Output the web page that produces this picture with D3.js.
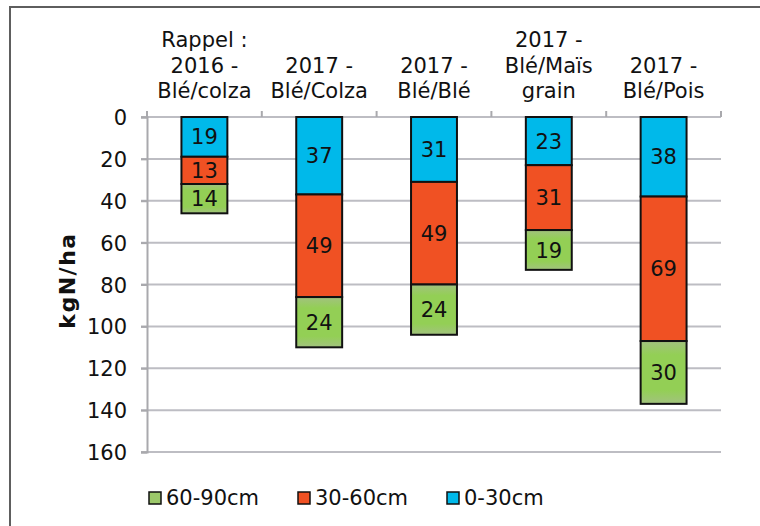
<!DOCTYPE html>
<html>
<head>
<meta charset="utf-8">
<script src="https://cdn.jsdelivr.net/npm/d3@7"></script>
<style>
  html, body { margin: 0; padding: 0; background: #fff; }
  svg { display: block; font-family: "DejaVu Sans", Verdana, sans-serif; }
</style>
</head>
<body>
<div id="chart"></div>
<script>
// Data (kgN/ha per soil layer)
const categories = [
  ["Rappel :", "2016 -", "Blé/colza"],
  ["2017 -", "Blé/Colza"],
  ["2017 -", "Blé/Blé"],
  ["2017 -", "Blé/Maïs", "grain"],
  ["2017 -", "Blé/Pois"]
];
const layer0to30 = [19, 37, 31, 23, 38];
const layer30to60 = [13, 49, 49, 31, 69];
const layer60to90 = [14, 24, 24, 19, 30];
const seriesNames = ["0-30cm", "30-60cm", "60-90cm"];
const legendOrder = ["60-90cm", "30-60cm", "0-30cm"];
const yTicks = [0, 20, 40, 60, 80, 100, 120, 140, 160];

const FONT = '"DejaVu Sans", Verdana, sans-serif';

const colors = {
  "0-30cm": "#00b9ea",
  "30-60cm": "#f05123",
  "60-90cm": "url(#greenGrad)"
};
const legendColors = {
  "0-30cm": "#00b9ea",
  "30-60cm": "#f05123",
  "60-90cm": "#9cc86a"
};

const W = 760, H = 526;
const plot = {left: 147, right: 721, top: 117, bottom: 452};

const svg = d3.select("#chart").append("svg")
  .attr("width", W)
  .attr("height", H);

const defs = svg.append("defs");
const grad = defs.append("linearGradient")
  .attr("id", "greenGrad")
  .attr("x1", 0).attr("y1", 0).attr("x2", 0).attr("y2", 1);
[[0, "#a2c27f"], [0.22, "#93cf55"], [0.78, "#93cf55"], [1, "#a2c27f"]].forEach(s => {
  grad.append("stop").attr("offset", s[0]).attr("stop-color", s[1]);
});

// outer frame (top and left edges visible)
svg.append("path")
  .attr("d", `M10,${H + 5} L10,7 L${W + 5},7`)
  .attr("fill", "none")
  .attr("stroke", "#5e5e5e")
  .attr("stroke-width", 2);

const ids = categories.map((c, i) => i);

const xCat = d3.scaleBand()
  .domain(ids)
  .range([plot.left, plot.right])
  .padding(0);

const x = d3.scaleBand()
  .domain(ids)
  .range([plot.left, plot.right])
  .paddingInner(0.6)
  .paddingOuter(0.3);

const y = d3.scaleLinear()
  .domain([0, 160])
  .range([plot.top, plot.bottom]);

// gridlines
svg.append("g")
  .selectAll("line")
  .data(yTicks)
  .enter().append("line")
    .attr("x1", plot.left - 6)
    .attr("x2", plot.right)
    .attr("y1", d => y(d))
    .attr("y2", d => y(d))
    .attr("stroke", "#bdbdc3")
    .attr("stroke-width", 2);

// y axis
const yAxis = svg.append("g")
  .attr("transform", `translate(${plot.left},0)`)
  .call(d3.axisLeft(y).tickValues(yTicks).tickSize(6).tickPadding(14))
  .attr("font-family", FONT)
  .attr("font-size", 21);
yAxis.select(".domain").attr("stroke", "#a9a9ad").attr("stroke-width", 2);
yAxis.selectAll(".tick line").attr("stroke", "#a9a9ad").attr("stroke-width", 2);
yAxis.selectAll("text")
  .attr("fill", "#111")
  .attr("dy", "0.36em");

// top category ticks
const boundaries = ids.map(i => xCat(i)).concat([plot.right]);
svg.append("g")
  .selectAll("line")
  .data(boundaries)
  .enter().append("line")
    .attr("x1", d => d)
    .attr("x2", d => d)
    .attr("y1", plot.top - 6)
    .attr("y2", plot.top)
    .attr("stroke", "#a9a9ad")
    .attr("stroke-width", 2);

// category labels (bottom-aligned above the plot)
const lineH = 25.5;
const catG = svg.append("g")
  .selectAll("text")
  .data(categories)
  .enter().append("text")
    .attr("x", (d, i) => xCat(i) + xCat.bandwidth() / 2)
    .attr("text-anchor", "middle")
    .attr("fill", "#111")
    .style("font-size", "21px");
catG.each(function(lines) {
  const t = d3.select(this);
  lines.forEach((ln, k) => {
    t.append("tspan")
      .attr("x", t.attr("x"))
      .attr("y", 98 - (lines.length - 1 - k) * lineH)
      .text(ln);
  });
});

// stacked bars
const rows = ids.map(i => ({
  "0-30cm": layer0to30[i],
  "30-60cm": layer30to60[i],
  "60-90cm": layer60to90[i]
}));
const stacked = d3.stack().keys(seriesNames)(rows);

const layers = svg.append("g")
  .selectAll("g")
  .data(stacked)
  .enter().append("g")
    .attr("fill", d => colors[d.key]);

layers.selectAll("rect")
  .data(d => d)
  .enter().append("rect")
    .attr("x", (d, i) => x(i))
    .attr("y", d => y(d[0]))
    .attr("width", x.bandwidth())
    .attr("height", d => y(d[1]) - y(d[0]))
    .attr("stroke", "#111")
    .attr("stroke-width", 2);

layers.selectAll("text")
  .data(d => d.map(v => ({v: v, key: d.key})))
  .enter().append("text")
    .attr("x", (d, i) => x(i) + x.bandwidth() / 2)
    .attr("y", d => (y(d.v[0]) + y(d.v[1])) / 2)
    .attr("dy", "0.36em")
    .attr("text-anchor", "middle")
    .attr("fill", "#111")
    .style("font-size", "21px")
    .text(d => d.v.data[d.key]);

// y axis title
svg.append("text")
  .attr("transform", `translate(75,${(plot.top + plot.bottom) / 2 - 4}) rotate(-90)`)
  .attr("text-anchor", "middle")
  .attr("font-weight", "bold")
  .attr("fill", "#111")
  .style("letter-spacing", "1.5px")
  .style("font-size", "22px")
  .text("kgN/ha");

// legend
const legX = [149, 298, 447];
const legend = svg.append("g")
  .selectAll("g")
  .data(legendOrder)
  .enter().append("g")
    .attr("transform", (d, i) => `translate(${legX[i]},492)`);

legend.append("rect")
  .attr("width", 12)
  .attr("height", 12)
  .attr("fill", d => legendColors[d])
  .attr("stroke", "#111")
  .attr("stroke-width", 1.5);

legend.append("text")
  .attr("x", 17)
  .attr("y", 13)
  .attr("fill", "#111")
  .style("font-size", "21px")
  .text(d => d);
</script>
</body>
</html>
